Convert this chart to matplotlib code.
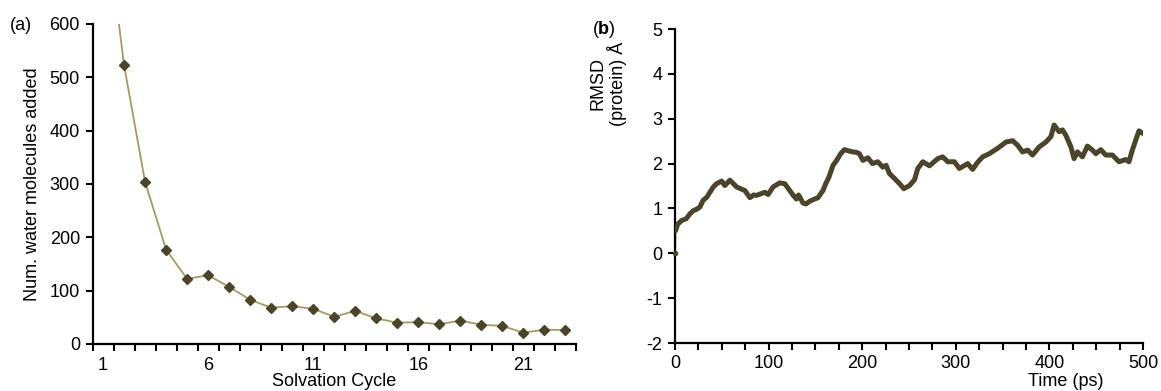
import matplotlib
matplotlib.use("Agg")
import matplotlib.pyplot as plt
from matplotlib.ticker import FixedLocator, MultipleLocator

plt.rcParams['font.family'] = ['Liberation Sans', 'DejaVu Sans']
plt.rcParams['mathtext.fontset'] = 'custom'
plt.rcParams['mathtext.rm'] = 'Liberation Sans'
plt.rcParams['mathtext.bf'] = 'Liberation Sans:bold'
plt.rcParams['axes.unicode_minus'] = False

# ---- panel (a) data ----
cycles = list(range(1, 24))
water_added = [840, 523, 304, 177, 122, 129, 107, 83, 68, 71, 66, 51, 62,
               48, 40, 41, 37, 44, 36, 34, 21, 27, 26]
cycle_tick_labels = [1, 6, 11, 16, 21]

# ---- panel (b) data ----
time_ps = [0, 0.5, 3, 7, 12, 16, 19.5, 23, 26.6, 30, 34, 37.3, 41, 44.4, 49.8,
           53.3, 58.6, 62, 65.7, 70, 74.6, 80, 84, 87.1, 92, 96, 99.5, 104.8,
           108, 111.9, 117.3, 122.6, 126, 129.7, 132, 136.8, 140, 143.9, 148,
           152.8, 158.1, 161, 164.5, 168.8, 173, 177, 181, 186, 190, 194, 197,
           200.8, 206, 211, 216.7, 222, 225.6, 229, 236.3, 240, 244.5, 250.5,
           255.9, 259.4, 264.7, 271.9, 280.7, 286, 291.4, 298.5, 303.8, 312.7,
           318, 323, 328.7, 335.8, 344.7, 353.6, 360.7, 366, 371.3, 376.7, 382,
           389, 396.3, 401.6, 405, 410.4, 414, 417.6, 423, 426.4, 430, 435.3,
           440.6, 446, 449.6, 454.9, 460.2, 467.3, 474.4, 481.5, 485, 488.6,
           492.2, 495.7, 500]
rmsd = [0.0, 0.50, 0.65, 0.73, 0.77, 0.88, 0.95, 0.98, 1.03, 1.18, 1.25, 1.36,
        1.48, 1.55, 1.61, 1.51, 1.63, 1.56, 1.48, 1.44, 1.40, 1.24, 1.30, 1.29,
        1.33, 1.36, 1.31, 1.48, 1.52, 1.57, 1.55, 1.40, 1.30, 1.21, 1.30, 1.12,
        1.10, 1.16, 1.20, 1.24, 1.40, 1.55, 1.70, 1.96, 2.08, 2.22, 2.31, 2.28,
        2.26, 2.25, 2.22, 2.07, 2.13, 2.00, 2.04, 1.92, 1.96, 1.78, 1.63, 1.55,
        1.44, 1.51, 1.64, 1.89, 2.04, 1.95, 2.11, 2.15, 2.04, 2.04, 1.89, 2.00,
        1.87, 2.02, 2.15, 2.22, 2.34, 2.48, 2.51, 2.41, 2.26, 2.30, 2.19, 2.37,
        2.48, 2.60, 2.86, 2.71, 2.75, 2.63, 2.37, 2.11, 2.26, 2.15, 2.39, 2.30,
        2.22, 2.31, 2.19, 2.19, 2.04, 2.09, 2.04, 2.30, 2.52, 2.73, 2.67]

LINE_TAN = '#a89a5c'
MARK_DARK = '#4b4428'
FS = 13

W, H = 1161, 391
fig = plt.figure(figsize=(W / 100, H / 100), dpi=100)

def style(ax):
    for s in ['top', 'right']:
        ax.spines[s].set_visible(False)
    for s in ['left', 'bottom']:
        ax.spines[s].set_linewidth(1.6)
    ax.tick_params(which='both', direction='out', width=1.5, labelsize=FS, pad=4)

# ---- panel (a) ----
ax1 = fig.add_axes([92.5 / W, 1 - 344 / H, (576 - 92.5) / W, 320 / H])
ax1.plot(cycles, water_added, color=LINE_TAN, lw=1.3, marker='D', ms=5.5,
         mfc=MARK_DARK, mec=MARK_DARK, clip_on=True)
ax1.set_xlim(0.5, 23.5)
ax1.set_ylim(0, 600)
ax1.yaxis.set_major_locator(MultipleLocator(100))
ax1.xaxis.set_major_locator(FixedLocator(cycle_tick_labels))
ax1.xaxis.set_minor_locator(FixedLocator([c - 0.5 for c in cycles] + [23.5]))
style(ax1)
ax1.tick_params(axis='x', which='major', length=0, pad=9)
ax1.tick_params(axis='x', which='minor', length=5)
ax1.tick_params(axis='y', length=5)
ax1.set_xlabel('Solvation Cycle', fontsize=FS, labelpad=0)
ax1.set_ylabel('Num. water molecules added', fontsize=FS, labelpad=6)
fig.text(10 / W, 1 - 25 / H, '(a)', fontsize=FS, va='center', ha='left')

# ---- panel (b) ----
ax2 = fig.add_axes([675 / W, 1 - 343 / H, (1143 - 675) / W, 314 / H])
ax2.plot(time_ps, rmsd, color=LINE_TAN, lw=1.5, zorder=2)
ax2.plot(time_ps[1:], rmsd[1:], color=MARK_DARK, lw=3.6,
         solid_capstyle='round', solid_joinstyle='round', zorder=3)
ax2.plot([time_ps[0]], [rmsd[0]], 'o', ms=3, color=MARK_DARK, zorder=3,
         clip_on=False)
ax2.set_xlim(0, 500)
ax2.set_ylim(-2, 5)
ax2.xaxis.set_major_locator(MultipleLocator(100))
ax2.xaxis.set_minor_locator(MultipleLocator(25))
ax2.yaxis.set_major_locator(MultipleLocator(1))
style(ax2)
ax2.tick_params(axis='both', which='both', length=5)
ax2.set_xlabel('Time (ps)', fontsize=FS)
ax2.xaxis.set_label_coords((1066 - 675) / 468, -0.096)
ax2.set_ylabel('RMSD\n(protein) Å', fontsize=FS, linespacing=1.0)
ax2.yaxis.set_label_coords((627 - 675) / 468, (343 - 84) / 314)
fig.text(592 / W, 1 - 29 / H, r'($\mathbf{b}$)', fontsize=FS, va='center',
         ha='left')

fig.savefig('out.png', dpi=100)
